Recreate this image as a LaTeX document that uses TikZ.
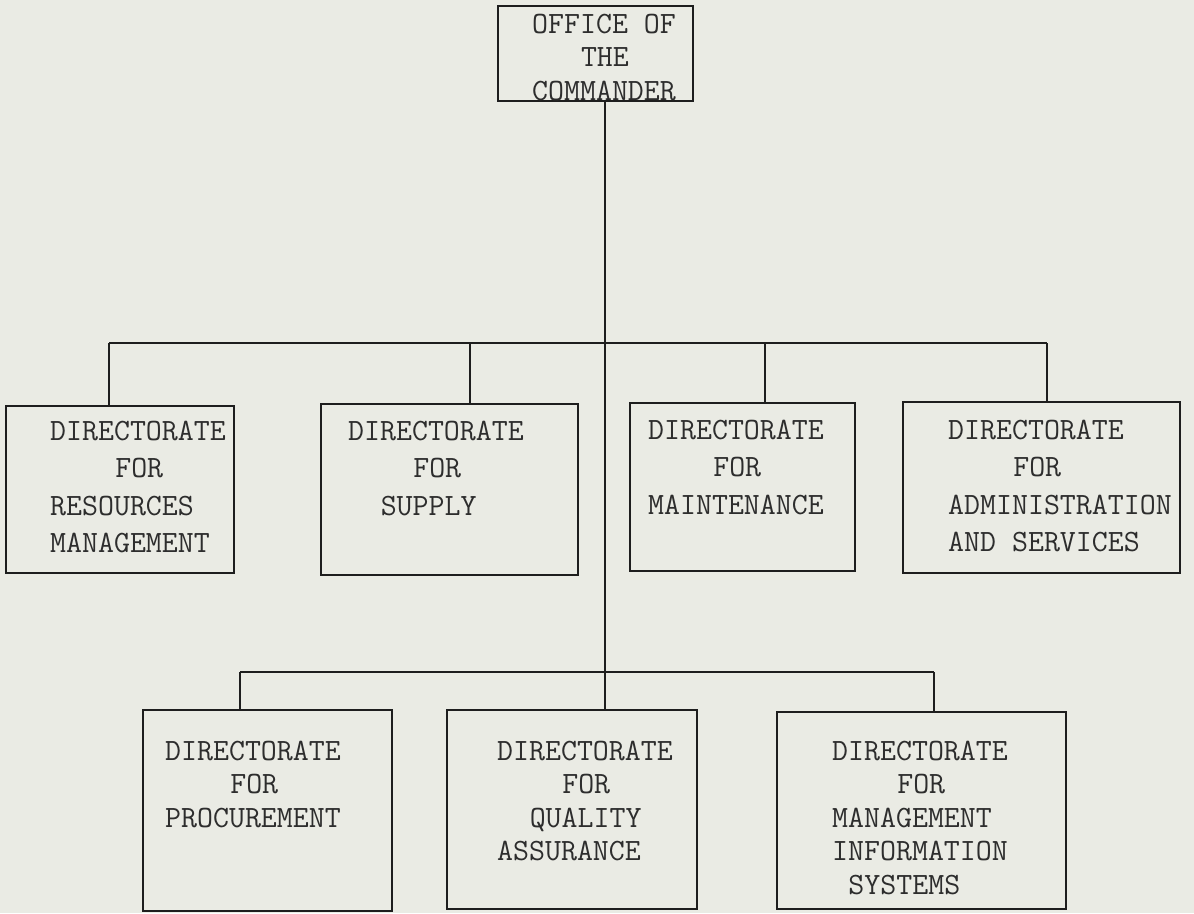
\documentclass[tikz,border=0pt]{standalone}
\usepackage{fontspec}
\definecolor{paper}{RGB}{234,235,228}
\definecolor{ink}{RGB}{30,30,30}
\definecolor{textink}{RGB}{45,45,45}
\tikzset{
  orgbox/.style={draw=ink, line width=2.2pt, inner sep=0pt},
  link/.style={draw=ink, line width=2.2pt},
  txt/.style={anchor=north west, inner sep=0pt, align=left, text=textink,
    font=\ttfamily\fontsize{31}{37.5}\selectfont},
  txtb/.style={txt, font=\ttfamily\fontsize{31}{33.5}\selectfont}
}
\begin{document}
\begin{tikzpicture}[x=1pt,y=-1pt]
\fill[paper] (0,0) rectangle (1194,913);
\useasboundingbox (0,0) rectangle (1194,913);

% boxes
\node[orgbox, minimum width=195pt, minimum height=95pt] (cmd) at (595.5,53.5) {};
\node[orgbox, minimum width=228pt, minimum height=167pt] (rm) at (120,489.5) {};
\node[orgbox, minimum width=257pt, minimum height=171pt] (sup) at (449.5,489.5) {};
\node[orgbox, minimum width=225pt, minimum height=168pt] (mnt) at (742.5,487) {};
\node[orgbox, minimum width=277pt, minimum height=171pt] (adm) at (1041.5,487.5) {};
\node[orgbox, minimum width=249pt, minimum height=201pt] (prc) at (267.5,810.5) {};
\node[orgbox, minimum width=250pt, minimum height=199pt] (qa) at (572,809.5) {};
\node[orgbox, minimum width=289pt, minimum height=197pt] (mis) at (921.5,810.5) {};

% texts
\node[txtb] (cmdT) at (532,13.5) {OFFICE OF\\\hspace*{1.575em}THE\\COMMANDER};
\node[txt] (rmT) at (50,420.5) {DIRECTORATE\\\hspace*{2.1em}FOR\\RESOURCES\\MANAGEMENT};
\node[txt] (supT) at (348,420.5) {DIRECTORATE\\\hspace*{2.1em}FOR\\\hspace*{1.05em}SUPPLY};
\node[txt] (mntT) at (648,419.5) {DIRECTORATE\\\hspace*{2.1em}FOR\\MAINTENANCE};
\node[txt] (admT) at (948,419.5) {DIRECTORATE\\\hspace*{2.1em}FOR\\ADMINISTRATION\\AND SERVICES};
\node[txtb] (prcT) at (165,740.5) {DIRECTORATE\\\hspace*{2.1em}FOR\\PROCUREMENT};
\node[txtb] (qaT) at (497,740.5) {DIRECTORATE\\\hspace*{2.1em}FOR\\\hspace*{1.05em}QUALITY\\ASSURANCE};
\node[txtb] (misT) at (832,740.5) {DIRECTORATE\\\hspace*{2.1em}FOR\\MANAGEMENT\\INFORMATION\\\hspace*{0.525em}SYSTEMS};

% junction coordinates
\coordinate (j1) at (605,343);
\coordinate (b1L) at (109,343);
\coordinate (b1S) at (470,343);
\coordinate (b1M) at (765,343);
\coordinate (b1R) at (1047,343);
\coordinate (b2L) at (240,672);
\coordinate (b2R) at (934,672);

% connectors
\draw[link] (cmd.south -| j1) -- (qa.north -| j1);
\draw[link] (b1L) -- (b1R);
\draw[link] (b1L) -- (rm.north -| b1L);
\draw[link] (b1S) -- (sup.north -| b1S);
\draw[link] (b1M) -- (mnt.north -| b1M);
\draw[link] (b1R) -- (adm.north -| b1R);
\draw[link] (b2L) -- (b2R);
\draw[link] (b2L) -- (prc.north -| b2L);
\draw[link] (b2R) -- (mis.north -| b2R);
\end{tikzpicture}
\end{document}
